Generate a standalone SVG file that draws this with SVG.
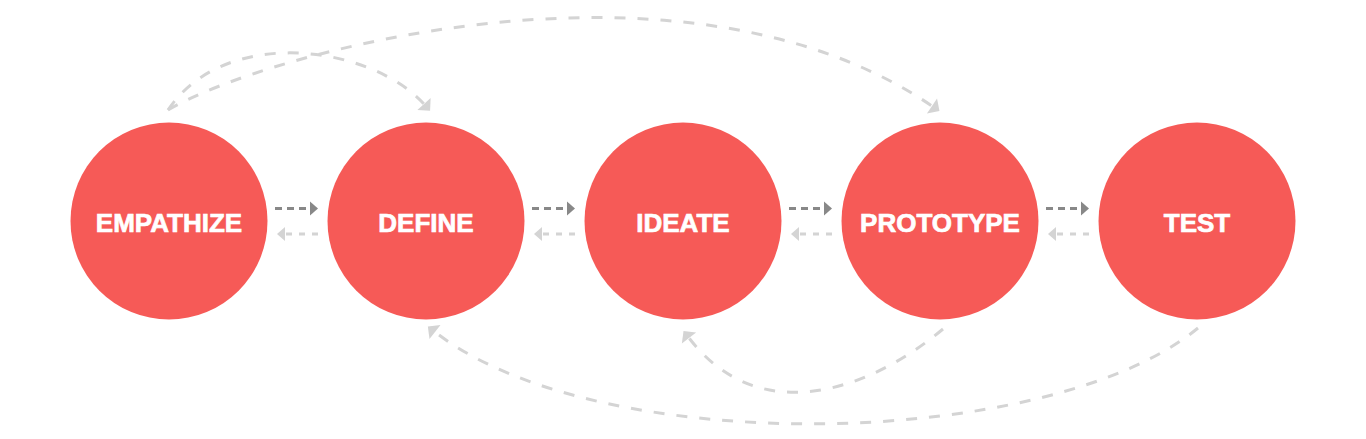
<svg xmlns="http://www.w3.org/2000/svg" width="1366" height="439" viewBox="0 0 1366 439">
<style>
.node circle{fill:#F65A57}
.node text{fill:#fff;stroke:#fff;stroke-width:0.7;font-family:"Liberation Sans",Arial,sans-serif;font-weight:bold;font-size:26px;text-anchor:middle}
.arc{fill:none;stroke:#D4D4D4;stroke-width:3;stroke-dasharray:11 12}
.fwd{fill:none;stroke:#888;stroke-width:3;stroke-dasharray:7 5}
.back{fill:none;stroke:#D4D4D4;stroke-width:3;stroke-dasharray:6 7}
</style>
<defs>
<marker id="hArc" markerUnits="userSpaceOnUse" orient="auto" refX="0" refY="0" markerWidth="10" markerHeight="20" overflow="visible"><path d="M0,-9 L9,0 L0,9 z" fill="#D4D4D4"/></marker>
<marker id="hFwd" markerUnits="userSpaceOnUse" orient="auto" refX="0" refY="0" markerWidth="9" markerHeight="16" overflow="visible"><path d="M0,-7 L8,0 L0,7 z" fill="#888"/></marker>
<marker id="hBack" markerUnits="userSpaceOnUse" orient="auto" refX="0" refY="0" markerWidth="9" markerHeight="16" overflow="visible"><path d="M0,-7 L8,0 L0,7 z" fill="#D4D4D4"/></marker>
</defs>
<rect width="1366" height="439" fill="#fff"/>
<g id="connectors">
<path class="arc" d="M168,110 C225,25 370,45 424,104" marker-end="url(#hArc)"/>
<path class="arc" d="M168,110 C260,55 680,-65 932,106" marker-end="url(#hArc)"/>
<path class="arc" d="M943,329 C870,390 760,430 689,338" marker-end="url(#hArc)"/>
<path class="arc" d="M1198,328 C1050,450 600,460 435,332" marker-end="url(#hArc)"/>
<path class="fwd" d="M275,208.5 L310,208.5" marker-end="url(#hFwd)"/>
<path class="fwd" d="M532,208.5 L567,208.5" marker-end="url(#hFwd)"/>
<path class="fwd" d="M789,208.5 L824,208.5" marker-end="url(#hFwd)"/>
<path class="fwd" d="M1046,208.5 L1081,208.5" marker-end="url(#hFwd)"/>
<path class="back" d="M318,234 L285,234" marker-end="url(#hBack)"/>
<path class="back" d="M575,234 L542,234" marker-end="url(#hBack)"/>
<path class="back" d="M832,234 L799,234" marker-end="url(#hBack)"/>
<path class="back" d="M1089,234 L1056,234" marker-end="url(#hBack)"/>
</g>
<g id="empathize" class="node"><circle cx="169" cy="221" r="98.5"/><text x="169" y="231.5">EMPATHIZE</text></g>
<g id="define" class="node"><circle cx="426" cy="221" r="98.5"/><text x="426" y="231.5">DEFINE</text></g>
<g id="ideate" class="node"><circle cx="683" cy="221" r="98.5"/><text x="683" y="231.5">IDEATE</text></g>
<g id="prototype" class="node"><circle cx="940" cy="221" r="98.5"/><text x="940" y="231.5">PROTOTYPE</text></g>
<g id="test" class="node"><circle cx="1197" cy="221" r="98.5"/><text x="1197" y="231.5">TEST</text></g>
</svg>
